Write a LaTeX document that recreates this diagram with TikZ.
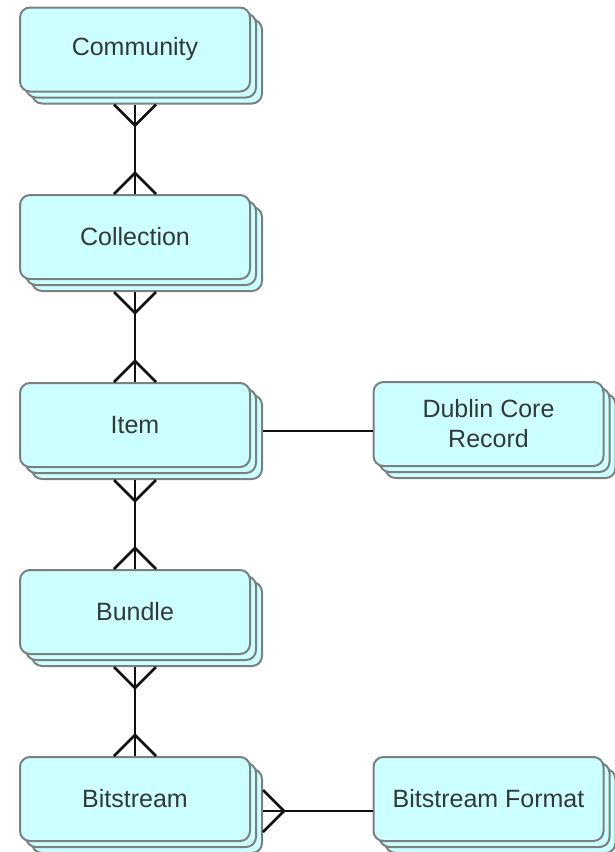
\documentclass[tikz,border=0pt]{standalone}
\usepackage{fontspec}
\newfontfamily\entfont{Liberation Sans}
\usetikzlibrary{calc}
\definecolor{boxfill}{HTML}{CCFFFF}
\definecolor{boxline}{HTML}{7A8080}
\definecolor{txtcol}{HTML}{333838}
\definecolor{conncol}{HTML}{111111}
\tikzset{
  ent/.style={draw=boxline, fill=boxfill, rounded corners=10pt, line width=2pt,
    minimum width=230pt, minimum height=84pt, inner sep=0pt, text=txtcol,
    font=\entfont\fontsize{25}{30}\selectfont, align=center},
  conn/.style={draw=conncol, line width=2.6pt},
}
\begin{document}
\begin{tikzpicture}[x=1pt, y=-1pt]
\useasboundingbox (0,0) rectangle (615,852);
\fill[white] (0,0) rectangle (615,852);
% entity stacks
\foreach \nm/\cx/\cy/\lab in {com/135/49.5/Community, col/135/237/Collection, item/135/425/Item, bun/135/612/Bundle, bit/135/799/Bitstream, dc/488.5/424/{Dublin Core\\Record}, bf/488.5/799/Bitstream Format}{
  \node[ent] (\nm3) at (\cx+12,\cy+12) {};
  \node[ent] (\nm2) at (\cx+6,\cy+6) {};
  \node[ent] (\nm) at (\cx,\cy) {\lab};
}
% vertical many-to-many connectors
\foreach \a/\b in {com/col, col/item, item/bun, bun/bit}{
  \draw[conn] (\a.south |- \a3.south) coordinate (\a-s) -- (\b.north) coordinate (\b-n);
  \draw[conn] ($(\a-s)+(-21,0)$) -- ($(\a-s)+(0,21)$) -- ($(\a-s)+(21,0)$);
  \draw[conn] ($(\b-n)+(-21,0)$) -- ($(\b-n)+(0,-21)$) -- ($(\b-n)+(21,0)$);
}
% Item -- Dublin Core Record
\draw[conn] (item3.east |- item2.center) -- (dc.west |- item2.center);
% Bitstream >-- Bitstream Format
\draw[conn] (bit3.east) coordinate (bit-e) -- (bf.west |- bit3.east);
\draw[conn] ($(bit-e)+(0,-21)$) -- ($(bit-e)+(21,0)$) -- ($(bit-e)+(0,21)$);
\end{tikzpicture}
\end{document}
